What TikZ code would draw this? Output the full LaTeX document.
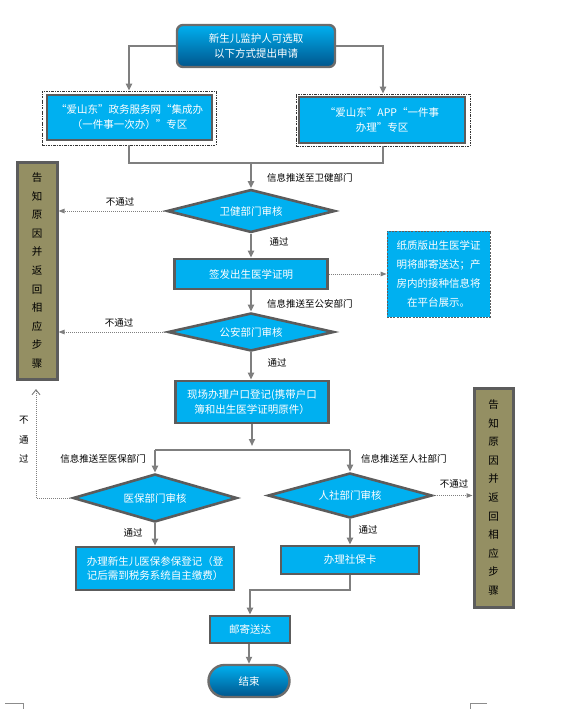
\documentclass[tikz,border=0pt]{standalone}
\usepackage{fontspec}
\setmainfont{Noto Sans CJK SC}
\usetikzlibrary{shapes.geometric,arrows.meta}
\definecolor{cyanb}{HTML}{00B0F0}
\definecolor{darkb}{HTML}{00558C}
\definecolor{bord}{HTML}{5C5C5C}
\definecolor{arrg}{HTML}{7F7F7F}
\definecolor{olive}{HTML}{948F63}
\tikzset{
  fnt/.style={font=\fontsize{10.5}{15}\selectfont},
  lblfnt/.style={font=\fontsize{9.5}{12}\selectfont, text=black, inner sep=0},
  bluebox/.style={rectangle, draw=bord, line width=2.6pt, fill=cyanb, text=white, fnt, align=center, inner sep=0},
  gradbox/.style={rectangle, draw=bord!90, line width=2.4pt, top color=cyanb, bottom color=darkb, text=white, fnt, align=center, inner sep=0},
  dia/.style={diamond, aspect=5, draw=bord, line width=2.6pt, fill=cyanb, text=white, fnt, inner sep=0},
  dashbox/.style={rectangle, draw=black!80, line width=0.6pt, dash pattern=on 2.5pt off 1.2pt on 0.6pt off 1.2pt},
  notebox/.style={rectangle, draw=bord, line width=0.8pt, dash pattern=on 2pt off 1.2pt, fill=cyanb, text=white, font=\fontsize{10.5}{19}\selectfont, align=center, inner sep=0},
  graybox/.style={rectangle, draw=bord, line width=3pt, fill=olive, text=black, font=\fontsize{10.5}{18.6}\selectfont, align=center, inner sep=0},
  ln/.style={draw=arrg, line width=2pt},
  arr/.style={ln, -{Triangle[length=7pt,width=6pt]}},
  dotarr/.style={draw=arrg, line width=1pt, dash pattern=on 1pt off 1pt, -{Triangle[length=6pt,width=4.5pt]}},
  openarr/.style={draw=arrg, line width=1pt, dash pattern=on 1pt off 1pt, -{Straight Barb[length=5pt,width=8pt]}},
  cornermark/.style={draw=black!45, line width=0.6pt}
}
\begin{document}
\begin{tikzpicture}[x=1pt,y=-1pt]
\useasboundingbox (0,0) rectangle (585,709);

% top
\node[gradbox, rounded corners=6pt, minimum width=158pt, minimum height=42pt] (top) at (256,46) {新生儿监护人可选取\\以下方式提出申请};

% two entry boxes
\node[dashbox, minimum width=174pt, minimum height=54pt] (L1o) at (129,118) {};
\node[bluebox, minimum width=165pt, minimum height=45pt] (L1) at (129.5,117.5) {“爱山东”政务服务网“集成办\\（一件事一次办）”专区};
\node[dashbox, minimum width=174pt, minimum height=52pt] (R1o) at (383,120) {};
\node[bluebox, minimum width=166pt, minimum height=46pt] (R1) at (382,120) {“爱山东”APP“一件事\\办理”专区};

\draw[arr] (top.west) -| (L1o.north);
\draw[arr] (top.east) -| (R1o.north);

\coordinate (m) at (251,163);
\draw[ln] (L1o.south) |- (m) -| (R1o.south);

% gray side boxes
\node[graybox, minimum width=40pt, minimum height=217pt] (gl) at (37,270.5) {告\\知\\原\\因\\并\\返\\回\\相\\应\\步\\骤};
\node[graybox, minimum width=39pt, minimum height=219pt] (gr) at (493.5,497.5) {告\\知\\原\\因\\并\\返\\回\\相\\应\\步\\骤};

% wei jian
\node[dia, minimum width=168pt, minimum height=43pt] (d1) at (251,211) {卫健部门审核};
\draw[arr] (m) -- (d1.north);
\node[lblfnt, anchor=west] (t1) at (267,178) {信息推送至卫健部门};
\draw[dotarr] (d1.west) -- (d1.west -| gl.east);
\node[lblfnt] (n1) at (120,202) {不通过};
\node[lblfnt] (p1) at (279,242) {通过};

\node[bluebox, minimum width=153pt, minimum height=30pt] (b1) at (251,274) {签发出生医学证明};
\draw[arr] (d1.south) -- (b1.north);

\node[notebox, minimum width=103pt, minimum height=86pt] (note) at (438.5,274) {纸质版出生医学证\\明将邮寄送达；产\\房内的接种信息将\\在平台展示。};
\draw[dotarr] (b1.east) -- (note.west);

% gong an
\node[lblfnt, anchor=west] (t2) at (267,304) {信息推送至公安部门};
\node[dia, minimum width=166pt, minimum height=38pt] (d2) at (251,332) {公安部门审核};
\draw[arr] (b1.south) -- (d2.north);
\draw[dotarr] (d2.west) -- (d2.west -| gl.east);
\node[lblfnt] (n2) at (119,323) {不通过};
\node[lblfnt] (p2) at (277,363) {通过};

\node[bluebox, minimum width=153pt, minimum height=42pt] (b2) at (252,402) {现场办理户口登记(携带户口\\簿和出生医学证明原件）};
\draw[arr] (d2.south) -- (d2.south |- b2.north);

% split
\coordinate (sp) at (252,450);
\coordinate (spa) at (252,446);
\draw[arr] (b2.south) -- (spa);

\node[dia, minimum width=164pt, minimum height=48pt] (d3) at (155,498) {医保部门审核};
\node[dia, minimum width=164pt, minimum height=45pt] (d4) at (350,495.5) {人社部门审核};
\draw[ln] (sp -| d3.north) -- (sp -| d4.north);
\draw[arr] (sp -| d3.north) -- (d3.north);
\draw[arr] (sp -| d4.north) -- (d4.north);
\node[lblfnt, anchor=east] (t3) at (146,459) {信息推送至医保部门};
\node[lblfnt, anchor=west] (t4) at (361,459) {信息推送至人社部门};

% not pass
\draw[dotarr] (d4.east) -- (d4.east -| gr.west);
\node[lblfnt] (n4) at (454,484) {不通过};
\coordinate (up) at (36,389);
\draw[openarr] (d3.west) -| (up);
\node[lblfnt, align=center, font=\fontsize{9.5}{19.5}\selectfont] (n3) at (24,440) {不\\通\\过};

% results
\node[lblfnt] (p3) at (133,533) {通过};
\node[lblfnt] (p4) at (368,530) {通过};
\node[bluebox, minimum width=158pt, minimum height=43pt, font=\fontsize{10.5}{14}\selectfont] (b3) at (155,568.5) {办理新生儿医保参保登记（登\\记后需到税务系统自主缴费）};
\node[bluebox, minimum width=138pt, minimum height=28pt] (b4) at (350,560) {办理社保卡};
\draw[arr] (d3.south) -- (b3.north);
\draw[arr] (d4.south) -- (b4.north);

\node[bluebox, minimum width=80pt, minimum height=27pt] (b5) at (250,629.5) {邮寄送达};
\coordinate (k) at (250,590);
\draw[arr] (b4.south) |- (k) -- (b5.north);

\node[gradbox, rounded corners=16pt, minimum width=81pt, minimum height=32pt] (end) at (249,681) {结束};
\draw[arr] (b5.south -| end.north) -- (end.north);

% page corner marks
\coordinate (ca) at (5,703);
\coordinate (cb) at (23,703);
\coordinate (cc) at (23,709);
\draw[cornermark] (ca) -- (cb) -- (cc);
\coordinate (cd) at (470,709);
\coordinate (ce) at (470,703);
\coordinate (cf) at (487,703);
\draw[cornermark] (cd) -- (ce) -- (cf);
\end{tikzpicture}
\end{document}
